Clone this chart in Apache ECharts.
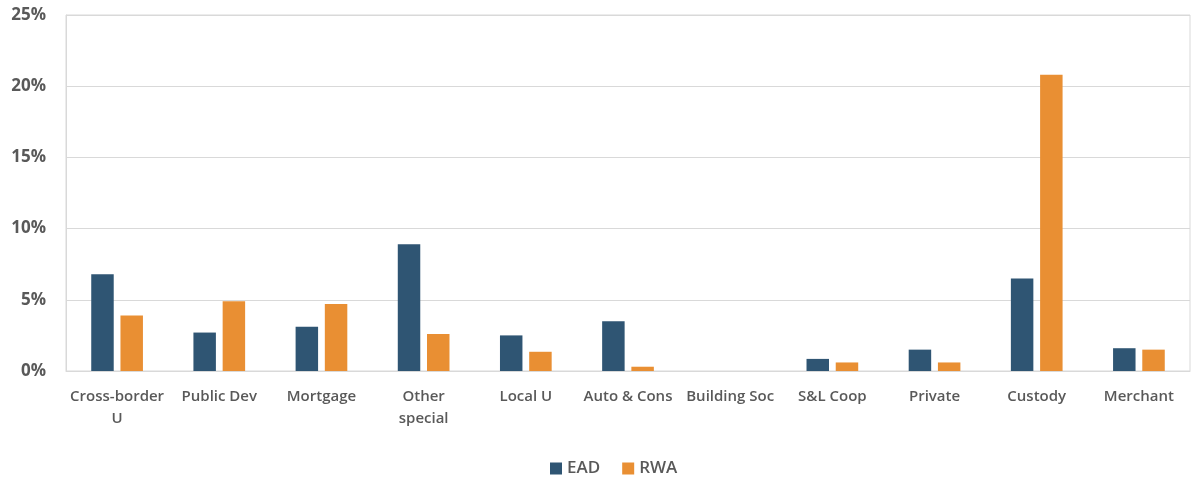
<!DOCTYPE html>
<html>
<head>
<meta charset="utf-8">
<script src="https://cdn.jsdelivr.net/npm/echarts@6/dist/echarts.min.js"></script>
<style>html,body{margin:0;padding:0;background:#fff}#c{width:1192px;height:479px}</style>
</head>
<body>
<div id="c"></div>
<script>
const categories = ["Cross-border\nU", "Public Dev", "Mortgage", "Other\nspecial", "Local U", "Auto & Cons", "Building Soc", "S&L Coop", "Private", "Custody", "Merchant"];
const eadValues = [6.8, 2.7, 3.1, 8.9, 2.5, 3.5, 0, 0.85, 1.5, 6.5, 1.6];
const rwaValues = [3.9, 4.9, 4.7, 2.6, 1.35, 0.3, 0, 0.6, 0.6, 20.8, 1.5];
const yTicks = [0, 5, 10, 15, 20, 25];

const chart = echarts.init(document.getElementById('c'), null, {renderer: 'canvas'});
const fontFam = '"Open Sans", Lato, sans-serif';
chart.setOption({
  animation: false,
  grid: {left: 66, right: 2, top: 15, bottom: 108, show: true, borderColor: '#d9d9d9', borderWidth: 1, backgroundColor: 'transparent'},
  legend: {
    top: 455, left: 545,
    itemWidth: 12, itemHeight: 12, itemGap: 22,
    icon: 'rect',
    textStyle: {color: '#595959', fontSize: 17, fontWeight: 600, fontFamily: fontFam},
    data: ['EAD', 'RWA']
  },
  xAxis: {
    type: 'category',
    data: categories,
    axisLine: {lineStyle: {color: '#d9d9d9', width: 1}},
    axisTick: {show: false},
    axisLabel: {color: '#595959', fontSize: 15, fontWeight: 600, fontFamily: fontFam, margin: 15, lineHeight: 22, interval: 0}
  },
  yAxis: {
    type: 'value',
    min: yTicks[0], max: yTicks[yTicks.length - 1], interval: 5,
    axisLine: {show: true, lineStyle: {color: '#d9d9d9'}},
    axisTick: {show: false},
    splitLine: {lineStyle: {color: '#d9d9d9', width: 1}},
    axisLabel: {color: '#595959', fontSize: 17, fontWeight: 700, fontFamily: fontFam, margin: 20, formatter: v => v + '%'}
  },
  series: [
    {name: 'EAD', type: 'bar', data: eadValues, barWidth: '22%', barGap: '30%', itemStyle: {color: '#2F5573'}},
    {name: 'RWA', type: 'bar', data: rwaValues, barWidth: '22%', barGap: '30%', itemStyle: {color: '#E98F33'}}
  ]
});
</script>
</body>
</html>
